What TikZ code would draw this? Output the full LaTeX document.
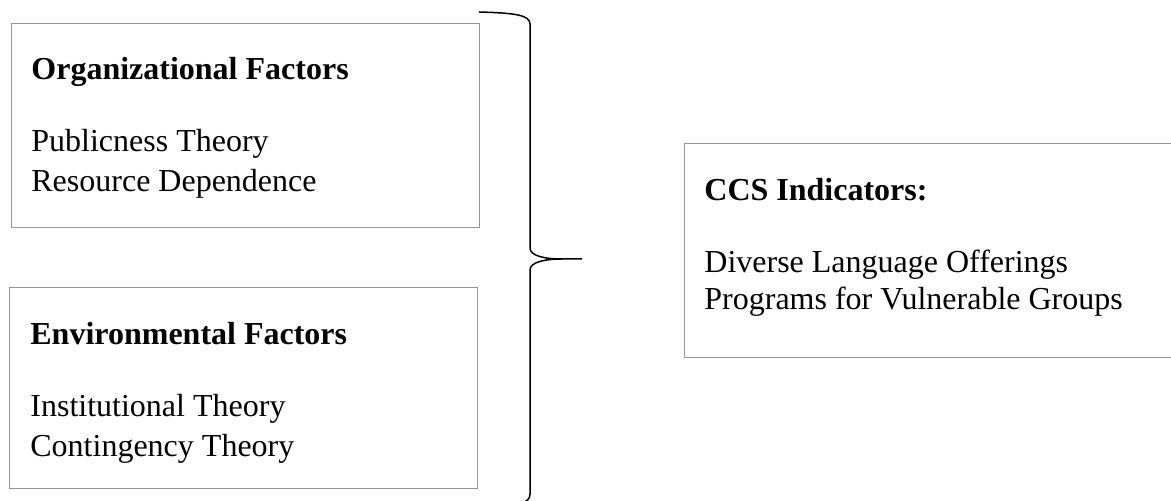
\documentclass[tikz,border=0pt]{standalone}
\usepackage{fontspec}
\setmainfont{Liberation Serif}
\usepackage{xcolor}
\usetikzlibrary{positioning}
\definecolor{boxgray}{RGB}{150,150,150}

\begin{document}
\begin{tikzpicture}[x=0.5pt, y=0.5pt,
      box/.style={draw=boxgray, line width=0.5pt, anchor=north west,
                  inner sep=0pt},
      txt/.style={anchor=base west, inner sep=0pt, align=left,
                  font=\fontsize{16}{20}\selectfont},
      brace/.style={line width=0.75pt, black, line join=round}
    ]
    \useasboundingbox (0,0) rectangle (1171,-501);
    \clip (0,0) rectangle (1171,-501);

    \node[box, minimum width=234pt, minimum height=102pt] (org) at (11,-23) {};
    \node[box, minimum width=234pt, minimum height=100.5pt] (env) at (9,-287) {};
    \node[box, minimum width=260pt, minimum height=107pt] (ccs) at (684,-143) {};

    % base anchor sits on the last line
    \node[txt] (orgtxt) at ([xshift=10pt, yshift=-84.5pt]org.north west)
      {\textbf{Organizational Factors}\\[16pt]Publicness Theory\\Resource Dependence};
    \node[txt] (envtxt) at ([xshift=10.5pt, yshift=-85pt]env.north west)
      {\textbf{Environmental Factors}\\[16pt]Institutional Theory\\Contingency Theory};
    \node[txt] (ccstxt) at ([xshift=10pt, yshift=-83.5pt]ccs.north west)
      {\textbf{CCS Indicators:}\\[16pt]Diverse Language Offerings\\[-1.5pt]Programs for Vulnerable Groups};

    % brace joining both factor boxes to the indicators
    \draw[brace] (479,-12) .. controls (515,-13) and (530,-15) .. (530,-24)
      -- (530,-248) .. controls (530,-256) and (545,-259) .. (562,-259)
      -- (582,-259);
    \draw[brace] (562,-259) .. controls (545,-259) and (530,-262) .. (530,-270)
      -- (530,-494) .. controls (530,-499) and (527,-501) .. (522,-503);
  \end{tikzpicture}
\end{document}
